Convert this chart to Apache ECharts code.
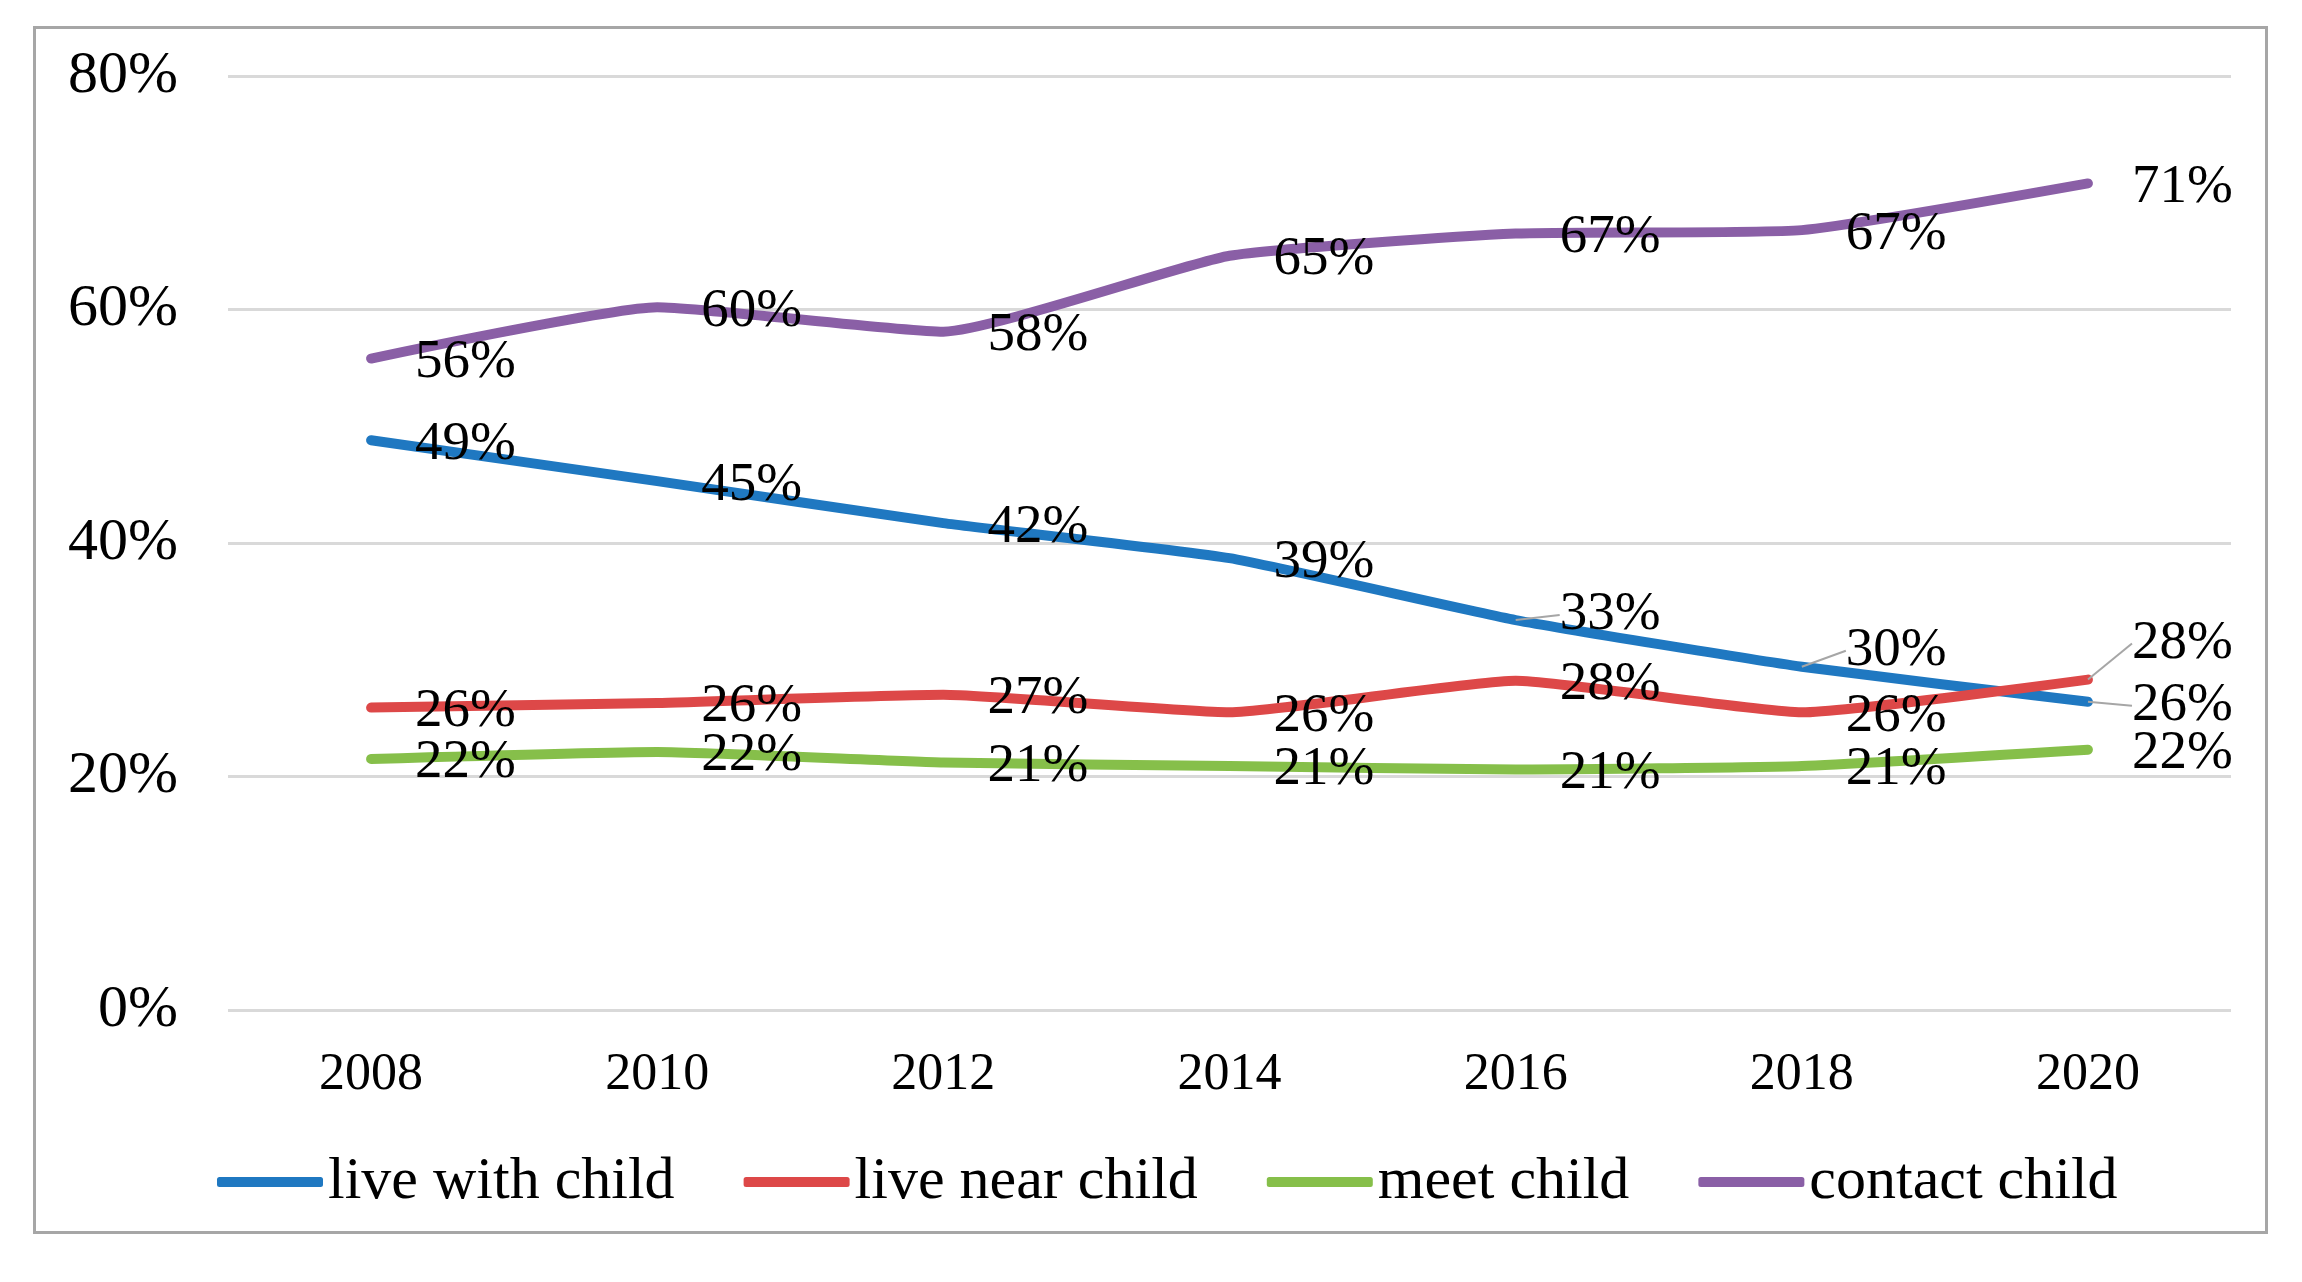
<!DOCTYPE html>
<html>
<head>
<meta charset="utf-8">
<script src="https://cdn.jsdelivr.net/npm/echarts@6/dist/echarts.min.js"></script>
<style>
  html, body { margin: 0; padding: 0; background: #fff; }
  #chart { width: 2302px; height: 1282px; }
</style>
</head>
<body>
<div id="chart"></div>
<script>
const years = ['2008', '2010', '2012', '2014', '2016', '2018', '2020'];
const liveWith = [48.8, 45.3, 41.7, 38.7, 33.4, 29.4, 26.4];
const liveNear = [25.9, 26.3, 27.0, 25.5, 28.2, 25.5, 28.3];
const meet = [21.5, 22.1, 21.2, 20.9, 20.6, 20.9, 22.3];
const contact = [55.8, 60.2, 58.1, 64.6, 66.5, 66.8, 70.8];
const labelTexts = {
  liveWith: ['49%', '45%', '42%', '39%', '33%', '30%', '26%'],
  liveNear: ['26%', '26%', '27%', '26%', '28%', '26%', '28%'],
  meet: ['22%', '22%', '21%', '21%', '21%', '21%', '22%'],
  contact: ['56%', '60%', '58%', '65%', '67%', '67%', '71%']
};
const yTicks = [0, 20, 40, 60, 80];

const FONT = '"Liberation Serif", "Times New Roman", serif';

// label vertical shifts (series index -> data index -> dy)
const shifts = { 0: { 4: -9, 5: -20, 6: 0 }, 1: { 6: -40 } };

function items(values, sIdx) {
  return values.map((v, i) => {
    const hasLine = shifts[sIdx] && shifts[sIdx][i] !== undefined;
    return hasLine ? { value: v, labelLine: { show: true } } : { value: v };
  });
}

function mk(name, values, texts, color, sIdx) {
  return {
    name: name,
    type: 'line',
    data: items(values, sIdx),
    symbol: 'circle',
    symbolSize: 0.1,
    showSymbol: true,
    smooth: 0.15,
    lineStyle: { color: color, width: 10, cap: 'round', join: 'round' },
    itemStyle: { color: color },
    label: {
      show: true,
      position: 'right',
      distance: 44,
      fontFamily: FONT,
      fontSize: 55,
      color: '#000',
      formatter: p => texts[p.dataIndex]
    },
    labelLine: { show: false, lineStyle: { color: '#a6a6a6', width: 2 } },
    emphasis: { disabled: true },
    z: 2
  };
}

const chart = echarts.init(document.getElementById('chart'));
chart.setOption({
  backgroundColor: '#fff',
  animation: false,
  graphic: [{
    type: 'rect',
    shape: { x: 34.5, y: 27.5, width: 2232, height: 1205 },
    style: { fill: 'none', stroke: '#a6a6a6', lineWidth: 3 },
    silent: true
  }],
  grid: { left: 228, right: 71, top: 76, bottom: 272 },
  xAxis: {
    type: 'category',
    data: years,
    boundaryGap: true,
    axisLine: { show: false },
    axisTick: { show: false },
    axisLabel: { fontFamily: FONT, fontSize: 52, color: '#000', margin: 39 }
  },
  yAxis: {
    type: 'value',
    min: yTicks[0],
    max: yTicks[yTicks.length - 1],
    interval: 20,
    axisLine: { show: false },
    axisTick: { show: false },
    axisLabel: { fontFamily: FONT, fontSize: 60, color: '#000', margin: 50, formatter: '{value}%' },
    splitLine: { lineStyle: { color: '#d9d9d9', width: 3 } }
  },
  legend: {
    left: 212,
    top: 1147,
    itemWidth: 106,
    itemHeight: 10,
    itemGap: 69,
    icon: 'roundRect',
    textStyle: { fontFamily: FONT, fontSize: 60, color: '#000' },
    data: ['live with child', 'live near child', 'meet child', 'contact child']
  },
  labelLayout: function (params) {
    const s = shifts[params.seriesIndex];
    const base = 4;
    if (s && s[params.dataIndex] !== undefined) {
      return { dy: s[params.dataIndex] + base };
    }
    return { dy: base };
  },
  series: [
    mk('live with child', liveWith, labelTexts.liveWith, '#1f78c1', 0),
    mk('live near child', liveNear, labelTexts.liveNear, '#dd4848', 1),
    mk('meet child', meet, labelTexts.meet, '#86bf4a', 2),
    mk('contact child', contact, labelTexts.contact, '#8a5fa6', 3)
  ]
});
</script>
</body>
</html>
